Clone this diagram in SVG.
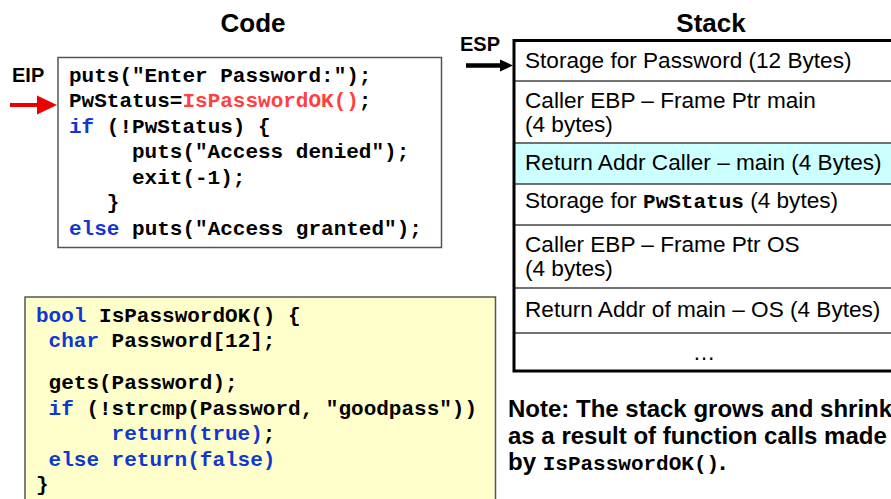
<svg xmlns="http://www.w3.org/2000/svg" width="891" height="499" viewBox="0 0 891 499">
<style>
.title{font-family:"Liberation Sans",Arial,sans-serif;font-weight:bold;font-size:26px;fill:#000;text-anchor:middle}
.reg{font-family:"Liberation Sans",Arial,sans-serif;font-weight:bold;font-size:20px;fill:#000}
.code{font-family:"Liberation Mono","Courier New",monospace;font-weight:bold;font-size:21px;fill:#000}
.kw{fill:#1038D0}
.fn{fill:#FF4040}
.cell{font-family:"Liberation Sans",Arial,sans-serif;font-size:22.6px;fill:#000}
.mono{font-family:"Liberation Mono","Courier New",monospace;font-weight:bold;font-size:21px}
.note{font-family:"Liberation Sans",Arial,sans-serif;font-weight:bold;font-size:24px;fill:#000}
.div{stroke:#444;stroke-width:1.5}
</style>
<rect width="891" height="499" fill="#fff"/>

<g id="title-code"><text class="title" x="253" y="32">Code</text></g>
<g id="title-stack"><text class="title" x="711" y="32">Stack</text></g>

<g id="code-main">
<rect x="58" y="57.5" width="383.5" height="190" fill="#fff" stroke="#555" stroke-width="1.5"/>
<text class="code" x="69" y="81.5">puts("Enter Password:");</text>
<text class="code" x="69" y="107">PwStatus=<tspan class="fn">IsPasswordOK()</tspan>;</text>
<text class="code" x="69" y="132.5"><tspan class="kw">if</tspan> (!PwStatus) {</text>
<text class="code" x="132" y="158">puts("Access denied");</text>
<text class="code" x="132" y="183.5">exit(-1);</text>
<text class="code" x="106.8" y="209">}</text>
<text class="code" x="69" y="234.5"><tspan class="kw">else</tspan> puts("Access granted");</text>
</g>

<g id="code-func">
<rect x="25" y="297" width="470.5" height="215" fill="#FFFFCC" stroke="#555" stroke-width="1.5"/>
<text class="code" x="36" y="321.5"><tspan class="kw">bool</tspan> IsPasswordOK() {</text>
<text class="code" x="48.6" y="347"><tspan class="kw">char</tspan> Password[12];</text>
<text class="code" x="48.6" y="389">gets(Password);</text>
<text class="code" x="48.6" y="414.5"><tspan class="kw">if</tspan> (!strcmp(Password, "goodpass"))</text>
<text class="code" x="111.6" y="440"><tspan class="kw">return(true)</tspan>;</text>
<text class="code kw" x="48.6" y="465.5">else return(false)</text>
<text class="code" x="36" y="491">}</text>
</g>

<g id="eip"><text class="reg" x="12" y="82">EIP</text></g>
<g id="esp"><text class="reg" x="460" y="51">ESP</text></g>

<g id="stack">
<rect x="514" y="40.5" width="390" height="330.5" fill="#fff"/>
<g id="row-password"><text class="cell" x="525" y="67.5">Storage for Password (12 Bytes)</text></g>
<g id="row-ebp-main"><text class="cell" x="525" y="108">Caller EBP – Frame Ptr main</text><text class="cell" x="525" y="132">(4 bytes)</text></g>
<g id="row-ret-main"><rect x="514" y="143" width="390" height="41" fill="#CCFFFF"/><text class="cell" x="525" y="170">Return Addr Caller – main (4 Bytes)</text></g>
<g id="row-pwstatus"><text class="cell" x="525" y="207.5">Storage for <tspan class="mono">PwStatus</tspan> (4 bytes)</text></g>
<g id="row-ebp-os"><text class="cell" x="525" y="252">Caller EBP – Frame Ptr OS</text><text class="cell" x="525" y="276">(4 bytes)</text></g>
<g id="row-ret-os"><text class="cell" x="525" y="316.5">Return Addr of main – OS (4 Bytes)</text></g>
<g id="row-more"><text class="cell" x="704" y="360" text-anchor="middle">…</text></g>
<line class="div" x1="514" y1="81" x2="904" y2="81"/>
<line class="div" x1="514" y1="143" x2="904" y2="143"/>
<line class="div" x1="514" y1="184" x2="904" y2="184"/>
<line class="div" x1="514" y1="225" x2="904" y2="225"/>
<line class="div" x1="514" y1="288" x2="904" y2="288"/>
<line class="div" x1="514" y1="333" x2="904" y2="333"/>
<path d="M904 40.5 H514 V371 H904" fill="none" stroke="#000" stroke-width="3"/>
</g>

<g id="note">
<text class="note" x="508" y="417">Note: The stack grows and shrink</text>
<text class="note" x="508" y="443.5">as a result of function calls made</text>
<text class="note" x="508" y="470">by <tspan class="mono" font-size="23">IsPasswordOK()</tspan>.</text>
</g>

<g id="connectors">
<line x1="10" y1="105" x2="39" y2="105" stroke="#EE0000" stroke-width="4"/>
<polygon points="37,95.5 57,105 37,114.5" fill="#EE0000"/>
<line x1="466" y1="65.5" x2="501" y2="65.5" stroke="#000" stroke-width="4.5"/>
<polygon points="500,59.5 513,65.5 500,71.5" fill="#000"/>
</g>
</svg>
